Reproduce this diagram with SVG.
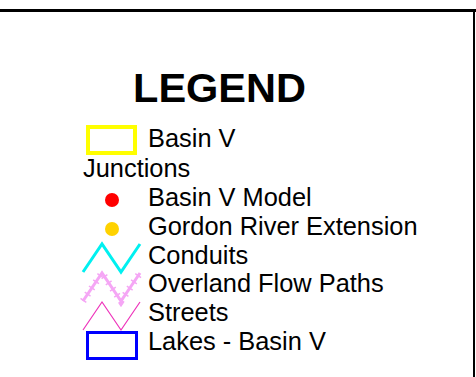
<svg xmlns="http://www.w3.org/2000/svg" width="476" height="377" viewBox="0 0 476 377">
  <style>
    .label { font-family: "Liberation Sans", Arial, sans-serif; font-size: 25.4px; fill: #000; }
    .title { font-family: "Liberation Sans", Arial, sans-serif; font-size: 41.5px; font-weight: bold; fill: #000; }
    .zig { fill: none; stroke-linejoin: miter; stroke-linecap: butt; }
  </style>
  <rect width="476" height="377" fill="#fff"/>

  <!-- frame -->
  <g id="frame" fill="none" stroke="#000">
    <line x1="0" y1="10.5" x2="476" y2="10.5" stroke-width="3"/>
    <line x1="474" y1="10" x2="474" y2="377" stroke-width="2"/>
  </g>

  <g id="title">
    <text class="title" x="219.5" y="102" text-anchor="middle">LEGEND</text>
  </g>

  <g id="basin-v">
    <rect x="88" y="127" width="47" height="26" fill="none" stroke="#ffff00" stroke-width="4"/>
    <text class="label" x="148" y="147">Basin V</text>
  </g>

  <g id="junctions">
    <text class="label" x="83" y="177">Junctions</text>
  </g>

  <g id="basin-v-model">
    <circle cx="112" cy="200" r="7" fill="#ff0000"/>
    <text class="label" x="148" y="206">Basin V Model</text>
  </g>

  <g id="gordon-river-extension">
    <circle cx="112" cy="229" r="7" fill="#ffd200"/>
    <text class="label" x="148" y="235">Gordon River Extension</text>
  </g>

  <g id="conduits">
    <polyline class="zig" points="83,272 102,244 121,272 140,244" stroke="#00f0f0" stroke-width="3"/>
    <text class="label" x="148" y="264">Conduits</text>
  </g>

  <g id="overland-flow-paths">
    <polyline class="zig" points="83,301 102,273 121,301 140,273" stroke="#f5a6f5" stroke-width="3"/>
    <polyline class="zig" points="83,301 102,273 121,301 140,273" stroke="#f5a6f5" stroke-width="7" stroke-dasharray="1.5 6"/>
    <text class="label" x="148" y="292">Overland Flow Paths</text>
  </g>

  <g id="streets">
    <polyline class="zig" points="83,330 102,302 121,330 140,302" stroke="#ee33bb" stroke-width="1.2"/>
    <text class="label" x="148" y="321">Streets</text>
  </g>

  <g id="lakes-basin-v">
    <rect x="87.5" y="332.5" width="49" height="26" fill="none" stroke="#0000ff" stroke-width="3"/>
    <text class="label" x="148" y="350">Lakes - Basin V</text>
  </g>
</svg>
